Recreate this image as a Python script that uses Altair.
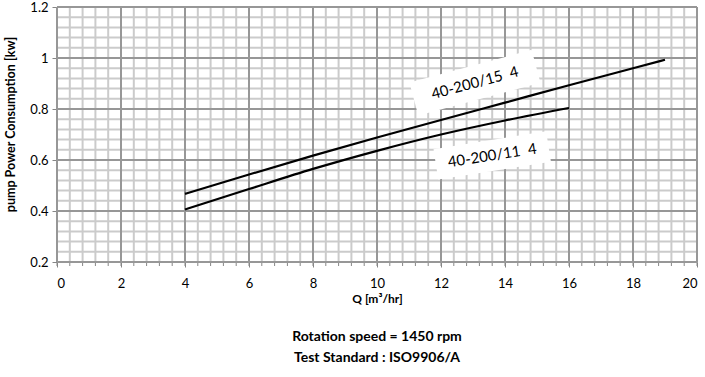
import altair as alt
import numpy as np
import pandas as pd

# ---- data ----
q_15 = [4, 6, 8, 10, 12, 14, 16, 18, 19]
p_15 = [0.467, 0.543, 0.617, 0.688, 0.757, 0.825, 0.893, 0.960, 0.993]
q_11 = [4, 6, 8, 10, 12, 14, 16]
p_11 = [0.406, 0.486, 0.565, 0.636, 0.700, 0.755, 0.804]
series_names = ["40-200/15 \u00a04", "40-200/11 \u00a04"]

x_ticks = list(range(0, 21, 2))
y_ticks = [0.2, 0.4, 0.6, 0.8, 1.0, 1.2]

# label anchors (data space) and rotation
label_x = [13.06, 13.6]
label_y = [0.903, 0.618]
label_angle = [345, 351]
box_size = [16000, 13000]

font = "Lato"

df = pd.concat([
    pd.DataFrame({"Q": q_15, "P": p_15, "model": series_names[0]}),
    pd.DataFrame({"Q": q_11, "P": p_11, "model": series_names[1]}),
])
labels = pd.DataFrame({"x": label_x, "y": label_y, "text": series_names,
                       "angle": label_angle, "size": box_size})

xs = alt.Scale(domain=[0, 20], nice=False, zero=False)
ys = alt.Scale(domain=[0.2, 1.2], nice=False, zero=False)

minor_x = pd.DataFrame({"v": np.round(np.arange(0, 20.001, 0.4), 3)})
minor_y = pd.DataFrame({"v": np.round(np.arange(0.2, 1.2001, 0.04), 3)})
major_x = pd.DataFrame({"v": x_ticks})
major_y = pd.DataFrame({"v": y_ticks})

minor_col = "#cbcbcb"
major_col = "#979797"

gx_min = alt.Chart(minor_x).mark_rule(color=minor_col, strokeWidth=2).encode(
    x=alt.X("v:Q", scale=xs))
gy_min = alt.Chart(minor_y).mark_rule(color=minor_col, strokeWidth=2).encode(
    y=alt.Y("v:Q", scale=ys))
gx_maj = alt.Chart(major_x).mark_rule(color=major_col, strokeWidth=2).encode(
    x=alt.X("v:Q", scale=xs))
gy_maj = alt.Chart(major_y).mark_rule(color=major_col, strokeWidth=2).encode(
    y=alt.Y("v:Q", scale=ys))

# small minor ticks below the x axis
minor_ticks = alt.Chart(minor_x).mark_rule(color="#868686", strokeWidth=1).encode(
    x=alt.X("v:Q", scale=xs), y=alt.value(256), y2=alt.value(259))

lines = alt.Chart(df).mark_line(color="black", strokeWidth=2.2,
                                interpolate="monotone").encode(
    x=alt.X("Q:Q", scale=xs, title="Q [m³/hr]",
            axis=alt.Axis(values=x_ticks, grid=False, tickSize=5,
                          domainColor="#868686", tickColor="#868686",
                          labelFont=font, labelFontSize=13, labelColor="black",
                          labelPadding=10, titleFont=font, titleFontSize=12,
                          titleFontWeight="bold", titleColor="black",
                          titlePadding=3)),
    y=alt.Y("P:Q", scale=ys, title="pump Power Consumption [kw]",
            axis=alt.Axis(values=y_ticks, format="~g", grid=False, tickSize=5,
                          domainColor="#868686", tickColor="#868686",
                          labelFont=font, labelFontSize=13, labelColor="black",
                          labelPadding=4, titleFont=font, titleFontSize=12.5,
                          titleFontWeight="bold", titleColor="black",
                          titleX=-47, titleY=117, titleBaseline="middle")),
    detail="model:N",
)

box_path = "M-1,-0.27L1,-0.27L1,0.27L-1,0.27Z"
boxes = alt.Chart(labels).mark_point(shape=box_path, filled=True, fill="white",
                                     opacity=1, strokeWidth=0).encode(
    x=alt.X("x:Q", scale=xs), y=alt.Y("y:Q", scale=ys),
    angle=alt.Angle("angle:Q", scale=None),
    size=alt.Size("size:Q", scale=None, legend=None),
)
texts = alt.Chart(labels).mark_text(font=font, fontSize=15, color="black",
                                    baseline="middle", align="center").encode(
    x=alt.X("x:Q", scale=xs), y=alt.Y("y:Q", scale=ys),
    text="text:N",
    angle=alt.Angle("angle:Q", scale=None),
)

chart = alt.layer(gx_min, gy_min, gx_maj, gy_maj, minor_ticks, lines, boxes, texts).properties(
    width=640, height=255,
    autosize=alt.AutoSizeParams(type="none"),
    padding={"left": 57, "top": 7, "right": 8, "bottom": 115},
    title=alt.TitleParams(text="Rotation speed = 1450 rpm",
                          subtitle="Test Standard : ISO9906/A",
                          orient="bottom", anchor="middle",
                          font=font, fontSize=14, fontWeight="bold", color="black",
                          subtitleFont=font, subtitleFontSize=14,
                          subtitleFontWeight="bold", subtitleColor="black",
                          offset=26, subtitlePadding=7),
).configure_view(stroke=None).configure(background="white")

chart.save("out.html", embed_options={"renderer": "svg", "actions": False})
